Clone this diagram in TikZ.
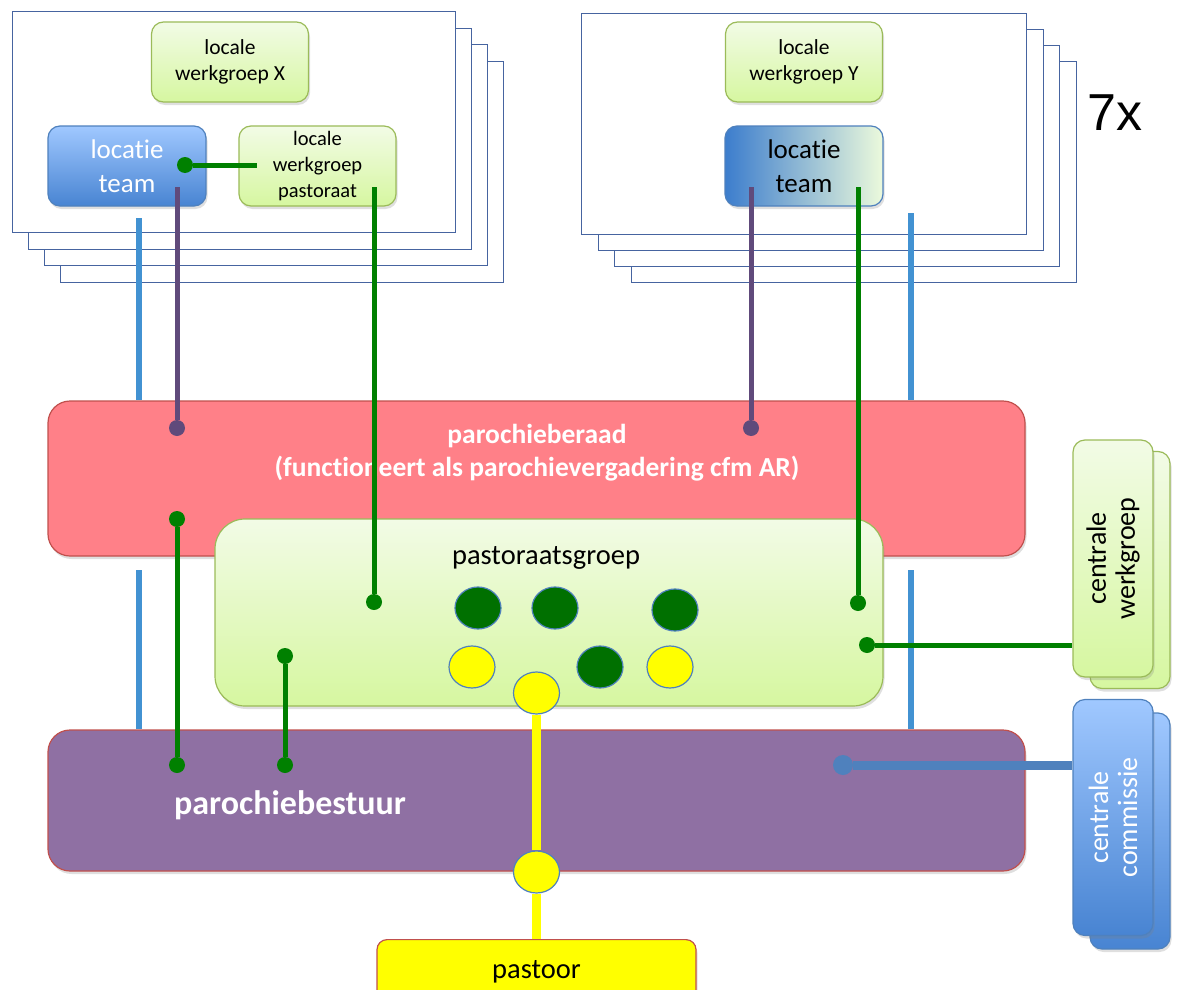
\documentclass[tikz,border=0pt]{standalone}
\usepackage{fontspec}
\setmainfont{Carlito}[Ligatures=NoCommon]
\newfontfamily\sevenfont{Liberation Sans}
\usepackage{tikz}
\usetikzlibrary{shapes.geometric,shadows}

\definecolor{cardblue}{RGB}{70,100,160}
\definecolor{lgtop}{RGB}{242,251,230}
\definecolor{lgbot}{RGB}{214,247,160}
\definecolor{lgedge}{RGB}{155,187,89}
\definecolor{ltlight}{RGB}{160,200,255}
\definecolor{ltdark}{RGB}{72,132,210}
\definecolor{ltedge}{RGB}{79,129,189}
\definecolor{raadred}{RGB}{255,128,136}
\definecolor{boxedge}{RGB}{192,80,77}
\definecolor{bestuurpurple}{RGB}{143,112,163}
\definecolor{linegreen}{RGB}{0,128,0}
\definecolor{linepurple}{RGB}{96,74,123}
\definecolor{lineblue}{RGB}{66,146,210}
\definecolor{linesteel}{RGB}{79,129,189}
\definecolor{memgreen}{RGB}{0,112,0}
\definecolor{memyellow}{RGB}{255,255,0}

\tikzstyle{centered} = [align=center, text centered]
\tikzset{
  % card and box styles
  card/.style={rectangle, draw=cardblue, fill=white, line width=0.9pt, inner sep=0pt, anchor=north west},
  roundbox/.style={centered, rectangle, rounded corners=12pt, inner sep=0pt, line width=1.2pt,
    drop shadow={opacity=0.25, shadow xshift=1.5pt, shadow yshift=-3pt}},
  greenbox/.style={roundbox, draw=lgedge, top color=lgtop, bottom color=lgbot,
    minimum width=157, minimum height=80, font=\fontsize{21.5}{26}\selectfont},
  teambox/.style={roundbox, draw=ltedge, top color=ltlight, bottom color=ltdark, text=white,
    minimum width=158, minimum height=80, font=\fontsize{27}{34}\selectfont},
  teamboxY/.style={teambox, text=black, left color={rgb,255:red,60;green,125;blue,205},
    middle color={rgb,255:red,165;green,203;blue,222}, right color={rgb,255:red,236;green,250;blue,220}},
  raadbox/.style={roundbox, rounded corners=22pt, draw=boxedge, fill=raadred, minimum width=977, minimum height=155},
  bestuurbox/.style={roundbox, rounded corners=22pt, draw=boxedge, fill=bestuurpurple, minimum width=977, minimum height=141},
  pgroupbox/.style={roundbox, rounded corners=30pt, draw=lgedge, top color=lgtop, bottom color=lgbot, minimum width=668, minimum height=187},
  pastoorbox/.style={roundbox, rounded corners=10pt, draw=boxedge, fill=memyellow, minimum width=319, minimum height=64,
    font=\fontsize{28.5}{32}\selectfont},
  cwgbox/.style={roundbox, rotate=90, draw=lgedge, top color=lgtop, bottom color=lgbot,
    minimum width=237, minimum height=80, font=\fontsize{28}{29}\selectfont},
  ccbox/.style={roundbox, rotate=90, draw=ltedge, top color=ltlight, bottom color=ltdark, text=white,
    minimum width=236, minimum height=80, font=\fontsize{28}{29}\selectfont},
  whitebold/.style={centered, text=white, font=\bfseries\fontsize{27.5}{33}\selectfont},
  % members and dots
  member/.style={ellipse, draw=ltedge, line width=1.2pt, inner sep=0pt, minimum width=46, minimum height=42},
  gmember/.style={member, fill=memgreen},
  ymember/.style={member, fill=memyellow},
  gdot/.style={circle, inner sep=0pt, minimum size=16, fill=linegreen},
  pdot/.style={circle, inner sep=0pt, minimum size=16, fill=linepurple},
  bdot/.style={circle, inner sep=0pt, minimum size=20, fill=linesteel},
  % line styles
  greenline/.style={draw=linegreen, line width=5pt},
  purpleline/.style={draw=linepurple, line width=5pt},
  blueline/.style={draw=lineblue, line width=6pt},
  steelline/.style={draw=linesteel, line width=9pt},
  yellowline/.style={draw=memyellow, line width=9pt},
}

\begin{document}
\begin{tikzpicture}[x=1pt, y=-1pt]
  \useasboundingbox (0,0) rectangle (1181,990);
  % stacks of locations
  \foreach \k in {3,2,1}{
    \node (cardL\k)[card, minimum width=443, minimum height=221] at (12+16*\k, 11+16.7*\k) {};
    \node (cardR\k)[card, minimum width=445, minimum height=221] at (581+16.7*\k, 13+16*\k) {};
  }
  \node (cardL)[card, minimum width=443, minimum height=221] at (12,11) {};
  \node (cardR)[card, minimum width=445, minimum height=221] at (581,13) {};
  % location X
  \node (lwX)[greenbox] at (230,62) {locale\\werkgroep X};
  \node (ltL)[teambox] at (127,166) {locatie\\team};
  \node (lwP)[greenbox, font=\fontsize{20.5}{26}\selectfont] at (317.5,166) {locale\\werkgroep\\pastoraat};
  % location Y
  \node (lwY)[greenbox] at (804,62) {locale\\werkgroep Y};
  \node (ltR)[teamboxY] at (804,166) {locatie\\team};
  \node (seven)[font=\sevenfont\fontsize{52}{56}\selectfont] at (1115,113) {7x};

  % parish level
  \node (raad)[raadbox] at (536.5,478.5) {};
  \node (raadtxt)[whitebold] at (537,453) {parochieberaad\\(functioneert als parochievergadering cfm AR)};
  \node (bestuur)[bestuurbox] at (536.5,800.5) {};
  \node (bestuurtxt)[whitebold, font=\bfseries\fontsize{34}{38}\selectfont] at (290,805) {parochiebestuur};
  \node (pgroep)[pgroupbox] at (549,612.5) {};
  \node (pgroeptxt)[font=\fontsize{28.5}{30}\selectfont] at (546,558) {pastoraatsgroep};
  \node (pastoor)[pastoorbox, anchor=north] at (536.5,939) {pastoor};

  % central groups
  \node (cwgB)[cwgbox] at (1130,570) {};
  \node (cwg)[cwgbox] at (1113,558.5) {centrale\\werkgroep};
  \node (ccB)[ccbox] at (1130,831) {};
  \node (cc)[ccbox] at (1113,817.5) {centrale\\commissie};

  % dots
  \node (dTL)[gdot] at (185,165) {};
  \node (dPL)[pdot] at (177,428) {};
  \node (dPR)[pdot] at (751,428) {};
  \node (dR)[gdot] at (177,519) {};
  \node (dPG1)[gdot] at (374,602) {};
  \node (dPG2)[gdot] at (858,603) {};
  \node (dPG3)[gdot] at (867,645) {};
  \node (dPG4)[gdot] at (285,656) {};
  \node (dB1)[gdot] at (177,765) {};
  \node (dB2)[gdot] at (285,765) {};
  \node (dB3)[bdot] at (843,765) {};
  \coordinate (tEnd) at (257,165);
  \coordinate (pL0) at (177,187);
  \coordinate (pR0) at (751,187);
  \coordinate (gL0) at (374,187);
  \coordinate (gR0) at (858,187);
  \coordinate (bL0) at (139,218);
  \coordinate (bR0) at (911,213);
  \coordinate (bL1) at (139,570);
  \coordinate (bR1) at (911,570);

  % connectors
  \draw[blueline] (bL0) -- (bL0 |- raad.north);
  \draw[blueline] (bR0) -- (bR0 |- raad.north);
  \draw[blueline] (bL1) -- (bL1 |- bestuur.north);
  \draw[blueline] (bR1) -- (bR1 |- bestuur.north);
  \draw[greenline] (dTL) -- (tEnd);
  \draw[purpleline] (pL0) -- (dPL);
  \draw[purpleline] (pR0) -- (dPR);
  \draw[greenline] (gL0) -- (dPG1);
  \draw[greenline] (gR0) -- (dPG2);
  \draw[greenline] (dR) -- (dB1);
  \draw[greenline] (dPG4) -- (dB2);
  \draw[greenline] (dPG3) -- (dPG3 -| cwg.north);
  \draw[steelline] (dB3) -- (dB3 -| cc.north);

  % members of pastoraatsgroep
  \node (g1)[gmember] at (478,608) {};
  \node (g2)[gmember] at (555,608) {};
  \node (g3)[gmember] at (675,610) {};
  \node (y1)[ymember] at (472,667) {};
  \node (g4)[gmember] at (600,667) {};
  \node (y2)[ymember] at (670,667) {};
  \node (y3)[ymember] at (536.5,693) {};
  \node (y4)[ymember] at (536.5,872) {};
  \draw[yellowline] (y3) -- (y4) -- (pastoor.north);
\end{tikzpicture}
\end{document}
